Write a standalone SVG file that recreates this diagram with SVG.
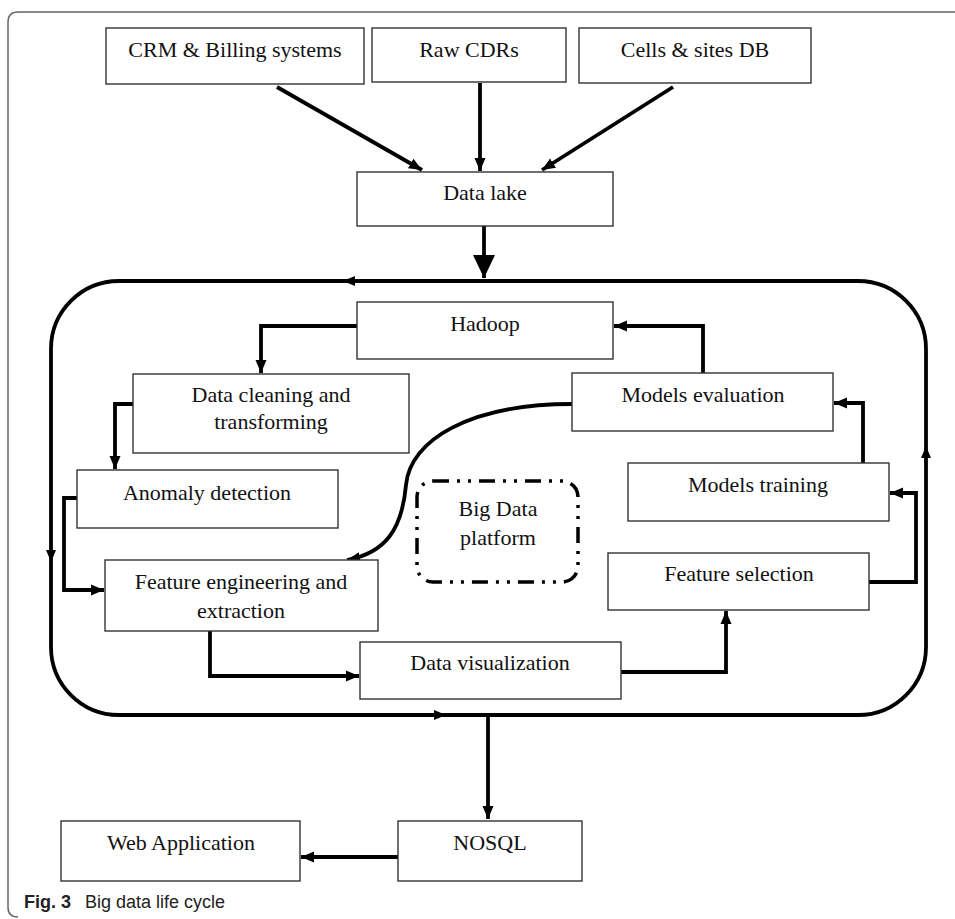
<svg xmlns="http://www.w3.org/2000/svg" width="955" height="919" viewBox="0 0 955 919">
<style>
.box{fill:#fff;stroke:#333;stroke-width:1.4}
.t{font-family:"Liberation Serif","Times New Roman",serif;font-size:22px;fill:#111;text-anchor:middle}
.c{fill:none;stroke:#000;stroke-width:3.8}
.ah{fill:#000}
</style>
<defs>
<marker id="a" markerUnits="userSpaceOnUse" markerWidth="14" markerHeight="14" viewBox="0 0 14 14" refX="13" refY="7" orient="auto">
<path d="M0,1.5 L13,7 L0,12.5 Z" fill="#000"/>
</marker>
<marker id="big" markerUnits="userSpaceOnUse" markerWidth="24" markerHeight="24" viewBox="0 0 24 24" refX="23" refY="12" orient="auto">
<path d="M0,1 L23,12 L0,23 Z" fill="#000"/>
</marker>
</defs>
<rect width="955" height="919" fill="#fff"/>
<path d="M955,12 H18 Q8,12 8,22 V907 Q8,917 18,917" fill="none" stroke="#666" stroke-width="1.5"/>

<g id="connectors">
<line class="c" x1="277" y1="87" x2="422" y2="170" stroke-width="4.5" marker-end="url(#a)"/>
<line class="c" x1="480" y1="83" x2="480" y2="171" stroke-width="4" marker-end="url(#a)"/>
<line class="c" x1="673" y1="87" x2="542" y2="170" stroke-width="4.5" marker-end="url(#a)"/>
<line class="c" x1="484" y1="226" x2="484" y2="278" stroke-width="8.5" marker-end="url(#big)"/>
<rect x="51" y="281" width="875" height="434" rx="68" ry="68" class="c"/>
<path class="ah" d="M343,281 L355,276 L355,286 Z"/>
<path class="ah" d="M51,562 L46,550 L56,550 Z"/>
<path class="ah" d="M926,446 L921,458 L931,458 Z"/>
<path class="ah" d="M446,715 L434,710 L434,720 Z"/>
<path class="c" d="M357,326 H261 V373" marker-end="url(#a)"/>
<path class="c" d="M133,404 H115 V469" marker-end="url(#a)"/>
<path class="c" d="M77,498 H64 V590 H104" marker-end="url(#a)"/>
<path class="c" d="M572,404 C470,404 410,440 406,485 C402,530 385,553 347,560" marker-end="url(#a)"/>
<path class="c" d="M703,373 V326 H614" marker-end="url(#a)"/>
<path class="c" d="M863,463 V403 H834" marker-end="url(#a)"/>
<path class="c" d="M869,582 H916 V493 H890" marker-end="url(#a)"/>
<path class="c" d="M621,672 H726 V611" marker-end="url(#a)"/>
<path class="c" d="M210,631 V676 H359" marker-end="url(#a)"/>
<line class="c" x1="488" y1="715" x2="488" y2="819" marker-end="url(#a)"/>
<line class="c" x1="398" y1="857" x2="301" y2="857" stroke-width="5" marker-end="url(#a)"/>
</g>

<g id="crm"><rect class="box" x="106" y="28" width="258" height="56"/><text class="t" x="235" y="57">CRM &amp; Billing systems</text></g>
<g id="rawcdrs"><rect class="box" x="372" y="28" width="194" height="54"/><text class="t" x="469" y="57">Raw CDRs</text></g>
<g id="cells"><rect class="box" x="579" y="28" width="232" height="55"/><text class="t" x="695" y="57">Cells &amp; sites DB</text></g>
<g id="datalake"><rect class="box" x="357" y="172" width="256" height="54"/><text class="t" x="485" y="200">Data lake</text></g>
<g id="hadoop"><rect class="box" x="357" y="302" width="256" height="57"/><text class="t" x="485" y="331">Hadoop</text></g>
<g id="cleaning"><rect class="box" x="133" y="374" width="276" height="79"/><text class="t" x="271" y="402">Data cleaning and</text><text class="t" x="271" y="429">transforming</text></g>
<g id="anomaly"><rect class="box" x="77" y="470" width="261" height="58"/><text class="t" x="207" y="500">Anomaly detection</text></g>
<g id="featureeng"><rect class="box" x="105" y="560" width="273" height="71"/><text class="t" x="241" y="589">Feature engineering and</text><text class="t" x="241" y="618">extraction</text></g>
<g id="platform"><rect x="417" y="481" width="161" height="101" rx="16" ry="16" fill="none" stroke="#000" stroke-width="3.5" stroke-dasharray="16,8,3,8,3,8"/><text class="t" x="498" y="516">Big Data</text><text class="t" x="498" y="545">platform</text></g>
<g id="evaluation"><rect class="box" x="572" y="373" width="261" height="58"/><text class="t" x="703" y="402">Models evaluation</text></g>
<g id="training"><rect class="box" x="628" y="463" width="261" height="58"/><text class="t" x="758" y="492">Models training</text></g>
<g id="selection"><rect class="box" x="608" y="553" width="261" height="57"/><text class="t" x="739" y="581">Feature selection</text></g>
<g id="visualization"><rect class="box" x="360" y="642" width="261" height="57"/><text class="t" x="490" y="670">Data visualization</text></g>
<g id="nosql"><rect class="box" x="398" y="821" width="184" height="60"/><text class="t" x="490" y="850">NOSQL</text></g>
<g id="webapp"><rect class="box" x="61" y="821" width="239" height="60"/><text class="t" x="181" y="850">Web Application</text></g>

<text x="24" y="908" font-family="'Liberation Sans',Arial,sans-serif" font-size="18" fill="#222"><tspan font-weight="bold">Fig. 3</tspan><tspan x="85">Big data life cycle</tspan></text>
</svg>
